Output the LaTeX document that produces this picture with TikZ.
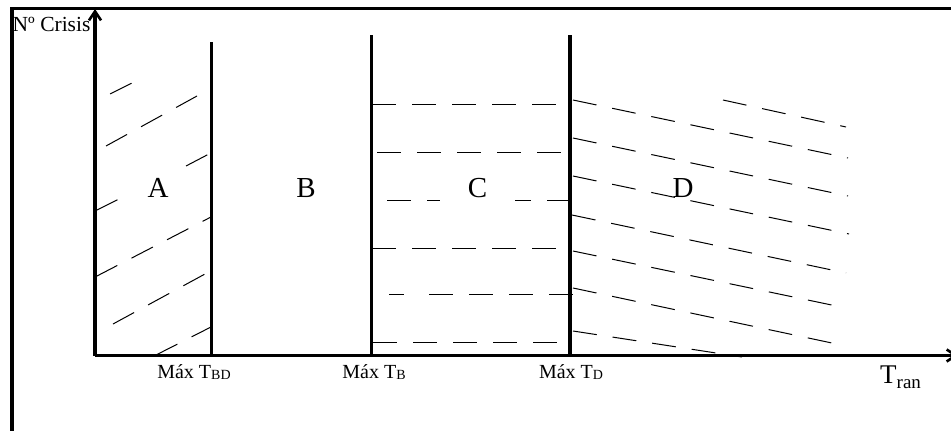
\documentclass[tikz,border=0pt]{standalone}
\usepackage{fontspec}
\setmainfont{Liberation Serif}
\usetikzlibrary{arrows.meta}
\tikzset{
  heavy/.style={line width=3.3pt},
  hatch/.style={line width=1pt, dash pattern=on 24pt off 16pt},
  axisarrow/.style={heavy, -{Straight Barb[length=9pt,width=12pt,line width=2.6pt]}},
  region/.style={font=\fontsize{29}{29}\selectfont, anchor=base, inner sep=0pt},
  ticklabel/.style={font=\fontsize{20}{20}\selectfont, anchor=base, inner sep=0pt}
}
\newcommand{\subsm}[1]{\raisebox{-1.5pt}{\fontsize{14}{14}\selectfont #1}}
\begin{document}
\begin{tikzpicture}[x=1pt,y=-1pt]
\useasboundingbox (0,0) rectangle (951,431);
% frame
\draw[heavy] (12,432) -- (12,8.5) -- (952,8.5);
% coordinates
\coordinate (O) at (95,355.5);
\coordinate (ytop) at (95,9);
\coordinate (xend) at (958,355.5);
% hatch A
\draw[hatch, dash phase=22pt] (94,102) -- (132,83);
\draw[hatch] (106,146) -- (197,96);
\draw[hatch] (96,210.5) -- (118,199.5);
\draw[hatch] (186,166) -- (208,154.5);
\draw[hatch] (96,276.5) -- (211,217);
\draw[hatch] (113,324) -- (205,274);
\draw[hatch] (156,355) -- (211,327);
% hatch C
\draw[hatch] (372,104) -- (556,104);
\draw[hatch] (377,152) -- (562,152);
\draw[hatch] (387,200) -- (570,200);
\draw[hatch] (372,248) -- (556,248);
\draw[hatch] (389,294) -- (404,294);
\draw[hatch] (429,294) -- (573,294);
\draw[hatch] (373,342) -- (558,342);
% hatch D
\draw[hatch] (723,100) -- (846,127);
\draw[hatch] (573,100) -- (848,158);
\draw[hatch] (573,138) -- (848,196);
\draw[hatch] (573,176) -- (849,234);
\draw[hatch] (572,215) -- (846,273);
\draw[hatch] (573,251) -- (846,308);
\draw[hatch] (573,288) -- (846,346);
\draw[hatch] (573,331) -- (742,357);
% region letters
\node[region] (A) at (158,197) {A};
\node[region] (B) at (306,197) {B};
\node[region, fill=white, minimum width=75pt, minimum height=30pt, text depth=0pt] (C) at (477.5,197) {C};
\node[region] (D) at (683,197) {D};
% axes
\draw[axisarrow] (O) -- (ytop);
\draw[axisarrow] (O) -- (xend);
% vertical lines
\draw[heavy] (211.5,42) -- (211.5,355.5);
\draw[heavy] (371.5,35) -- (371.5,355.5);
\draw[heavy] (570,35) -- (570,355.5);
% labels
\node[font=\fontsize{21.5}{21.5}\selectfont, anchor=base west, inner sep=0pt] (yl) at (12.5,31) {Nº Crisis};
\node[ticklabel] (t1) at (194,378) {Máx T\subsm{BD}};
\node[ticklabel] (t2) at (374,378) {Máx T\subsm{B}};
\node[ticklabel] (t3) at (571,378) {Máx T\subsm{D}};
\node[anchor=base west, inner sep=0pt] (xl) at (880,383) {\fontsize{27}{27}\selectfont T\raisebox{-5pt}{\fontsize{19}{19}\selectfont ran}};
\end{tikzpicture}
\end{document}
